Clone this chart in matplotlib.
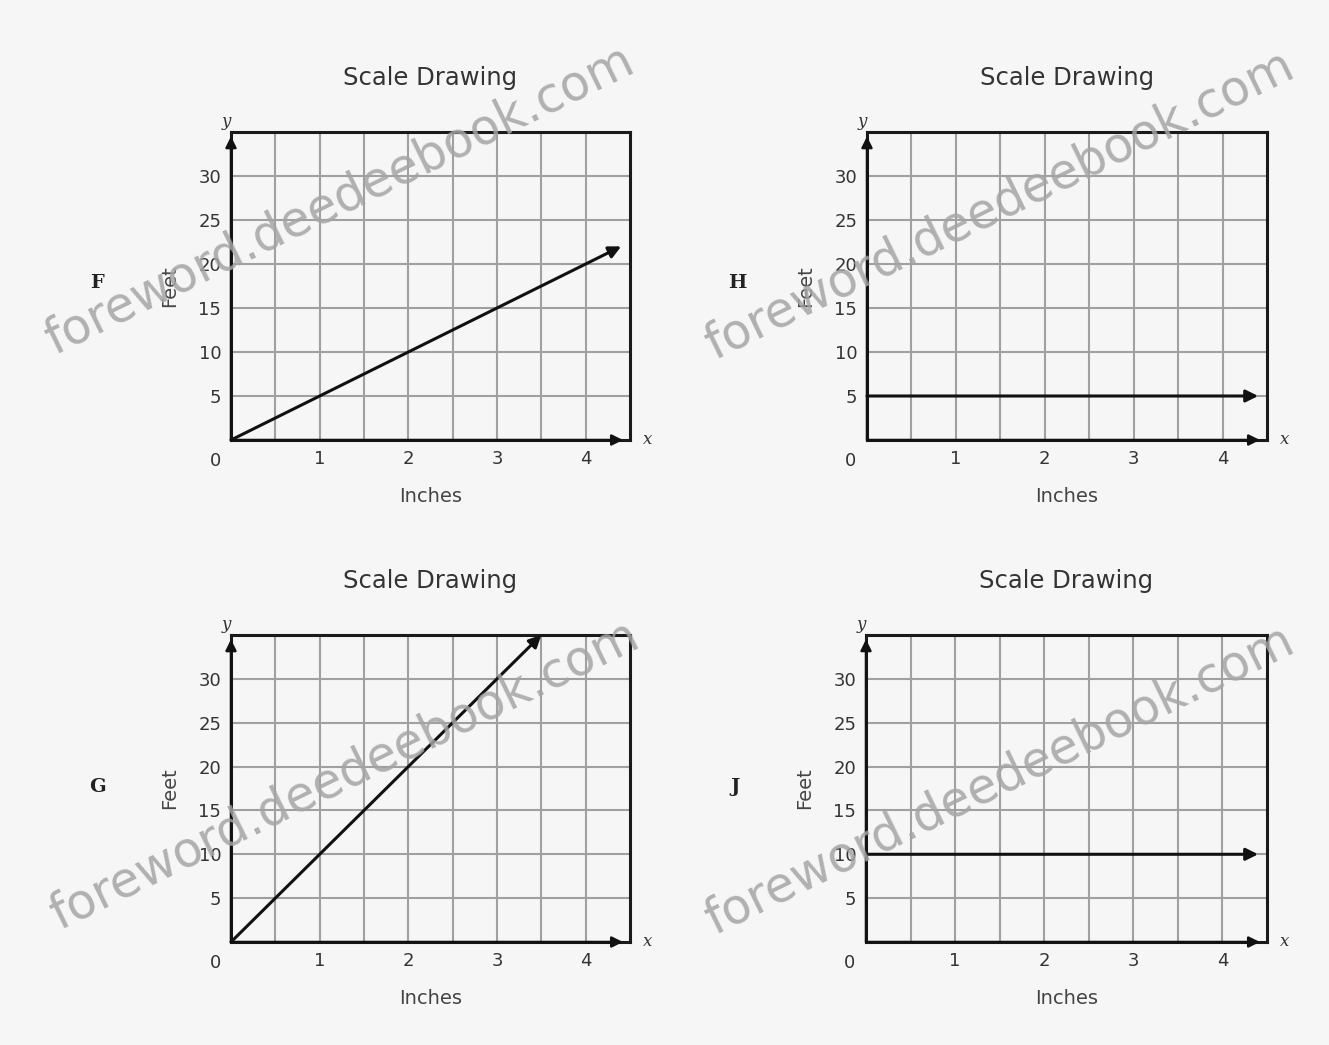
import matplotlib
matplotlib.use("Agg")
import matplotlib.pyplot as plt
import numpy as np

# ---- data ----
panel_letters = ["F", "H", "G", "J"]
titles = ["Scale Drawing", "Scale Drawing", "Scale Drawing", "Scale Drawing"]
x_label = "Inches"
y_label = "Feet"
x_ticks = [1, 2, 3, 4]
y_ticks = [5, 10, 15, 20, 25, 30]
x_max = 4.5
y_max = 35
line_x0 = [0, 0, 0, 0]
line_y0 = [0, 5, 0, 10]
line_x1 = [4.4, 4.4, 3.5, 4.4]
line_y1 = [22, 5, 35, 10]
watermark = "foreword.deedeebook.com"

W, H = 1329, 1045
bg = "#f6f6f6"
fig = plt.figure(figsize=(W / 100, H / 100), dpi=100, facecolor=bg)

# axes boxes in pixels: left, top, right, bottom
boxes = [(231, 132, 630, 440), (867, 132, 1267, 440),
         (231, 635, 630, 942), (866, 635, 1267, 942)]
letter_pos = [(97, 283), (737, 283), (97, 787), (735, 787)]

for i, (l, t, r, b) in enumerate(boxes):
    ax = fig.add_axes([l / W, 1 - b / H, (r - l) / W, (b - t) / H])
    ax.set_facecolor(bg)
    ax.set_xlim(0, x_max)
    ax.set_ylim(0, y_max)
    for gx in np.arange(0.5, x_max, 0.5):
        ax.axvline(gx, color="#a0a0a0", lw=1.5, zorder=1)
    for gy in np.arange(5, y_max, 5):
        ax.axhline(gy, color="#a0a0a0", lw=1.5, zorder=1)
    for s in ax.spines.values():
        s.set_linewidth(2.2)
        s.set_color("#1a1a1a")
    ax.set_xticks(x_ticks)
    ax.set_yticks(y_ticks)
    ax.tick_params(length=0, labelsize=13, colors="#333333", pad=7)
    ax.text(-0.18, -1.4, "0", ha="center", va="top", fontsize=13, color="#333333")
    # axis arrows
    ax.annotate("", xy=(4.42, 0), xytext=(0, 0),
                arrowprops=dict(arrowstyle="-|>", color="#111111", lw=1.8,
                                mutation_scale=16, shrinkA=0, shrinkB=0),
                annotation_clip=False, zorder=4)
    ax.annotate("", xy=(0, 34.5), xytext=(0, 0),
                arrowprops=dict(arrowstyle="-|>", color="#111111", lw=1.8,
                                mutation_scale=16, shrinkA=0, shrinkB=0),
                annotation_clip=False, zorder=4)
    ax.text(4.7, 0, "x", fontsize=12, family="DejaVu Serif", style="italic",
            ha="center", va="center", color="#333333", clip_on=False)
    ax.text(-0.05, 36.2, "y", fontsize=12, family="DejaVu Serif", style="italic",
            ha="center", va="center", color="#333333", clip_on=False)
    # data line
    ax.annotate("", xy=(line_x1[i], line_y1[i]), xytext=(line_x0[i], line_y0[i]),
                arrowprops=dict(arrowstyle="-|>", color="#111111", lw=2.2,
                                mutation_scale=18, shrinkA=0, shrinkB=0),
                annotation_clip=False, zorder=5)
    ax.set_xlabel(x_label, fontsize=14, color="#444444", labelpad=14)
    ax.set_title(titles[i], fontsize=17.5, color="#333333", pad=34)
    fig.text((l - 61) / W, 1 - ((t + b) / 2) / H, y_label, rotation=90,
             ha="center", va="center", fontsize=14, color="#444444")
    lx, ly = letter_pos[i]
    fig.text(lx / W, 1 - ly / H, panel_letters[i], ha="center", va="center",
             fontsize=14, family="DejaVu Serif", weight="bold", color="#222222")

# watermark
for cx, cy in [(340, 200), (1000, 205), (345, 775), (1000, 780)]:
    fig.text(cx / W, 1 - cy / H, watermark, rotation=26, rotation_mode="anchor",
             ha="center", va="center", fontsize=35, color="#a4a4a4", alpha=0.85,
             zorder=10)

fig.savefig("out.png", dpi=100, facecolor=bg)
